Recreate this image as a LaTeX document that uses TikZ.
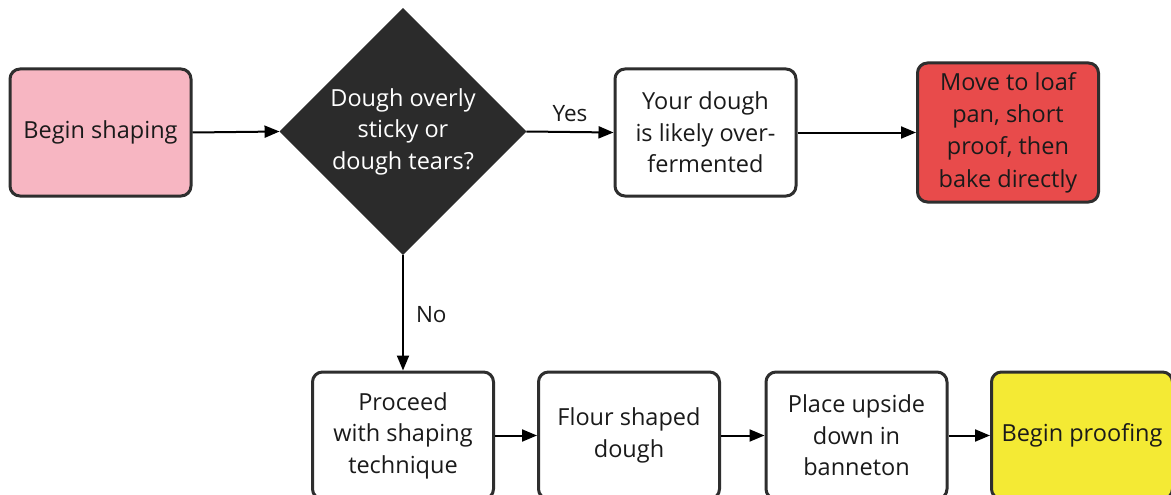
\documentclass[tikz,border=0pt]{standalone}
\usepackage{fontspec}
\setmainfont{Open Sans}
\usetikzlibrary{shapes.geometric,arrows.meta}
\definecolor{edgegray}{HTML}{2E2E2E}
\definecolor{pinkfill}{HTML}{F7B6C2}
\definecolor{redfill}{HTML}{E84B4B}
\definecolor{yellowfill}{HTML}{F4EA34}
\definecolor{darkfill}{HTML}{2B2B2B}
\definecolor{txt}{HTML}{1A1A1A}
\tikzset{
  box/.style={draw=edgegray, line width=3pt, rounded corners=10pt, align=center,
    font=\fontsize{23.5}{31.5}\selectfont, text=txt, inner sep=0pt,
    minimum width=181pt, minimum height=127pt, fill=white},
  decision/.style={diamond, draw=darkfill, fill=darkfill, aspect=1, inner sep=0pt,
    minimum width=243pt, minimum height=242pt, text=white, align=center,
    font=\fontsize{23.5}{31.5}\selectfont},
  arr/.style={line width=2pt, -{Triangle[length=15pt,width=12pt]}},
  lbl/.style={font=\fontsize{22.5}{26}\selectfont, text=txt, inner sep=0pt}
}
\begin{document}
\begin{tikzpicture}[x=1pt,y=-1pt]
\useasboundingbox (0,0) rectangle (1171,495);
\clip (0,0) rectangle (1171,495);
\fill[white] (0,0) rectangle (1171,495);
\node[box, fill=pinkfill] (start) at (100.5,132.5) {Begin shaping};
\node[decision] (q) at (403,131.5) {\raisebox{-2pt}{\parbox{160pt}{\centering Dough overly\\sticky or\\dough tears?}}};
\node[box] (over) at (705.5,132.5) {Your dough\\is likely over-\\fermented};
\node[box, fill=redfill, minimum height=139pt, font=\fontsize{23.5}{32.3}\selectfont] (pan) at (1008,132.5) {Move to loaf\\pan, short\\proof, then\\bake directly};
\node[box] (proceed) at (403,435.5) {Proceed\\with shaping\\technique};
\node[box] (flour) at (629,435.5) {Flour shaped\\dough};
\node[box] (place) at (856.5,435.5) {Place upside\\down in\\banneton};
\node[box, fill=yellowfill] (proof) at (1082,435.5) {Begin proofing};
\draw[arr] (start.east) -- (q.west);
\draw[arr] (q.east) -- node[lbl, above=9pt, pos=0.5] (yes) {Yes} (over.west);
\draw[arr] (over.east) -- (pan.west);
\draw[arr] (q.south) -- node[lbl, right=12pt, pos=0.5, yshift=-2pt] (no) {No} (proceed.north);
\draw[arr] (proceed.east) -- (flour.west);
\draw[arr] (flour.east) -- (place.west);
\draw[arr] (place.east) -- (proof.west);
\end{tikzpicture}
\end{document}
